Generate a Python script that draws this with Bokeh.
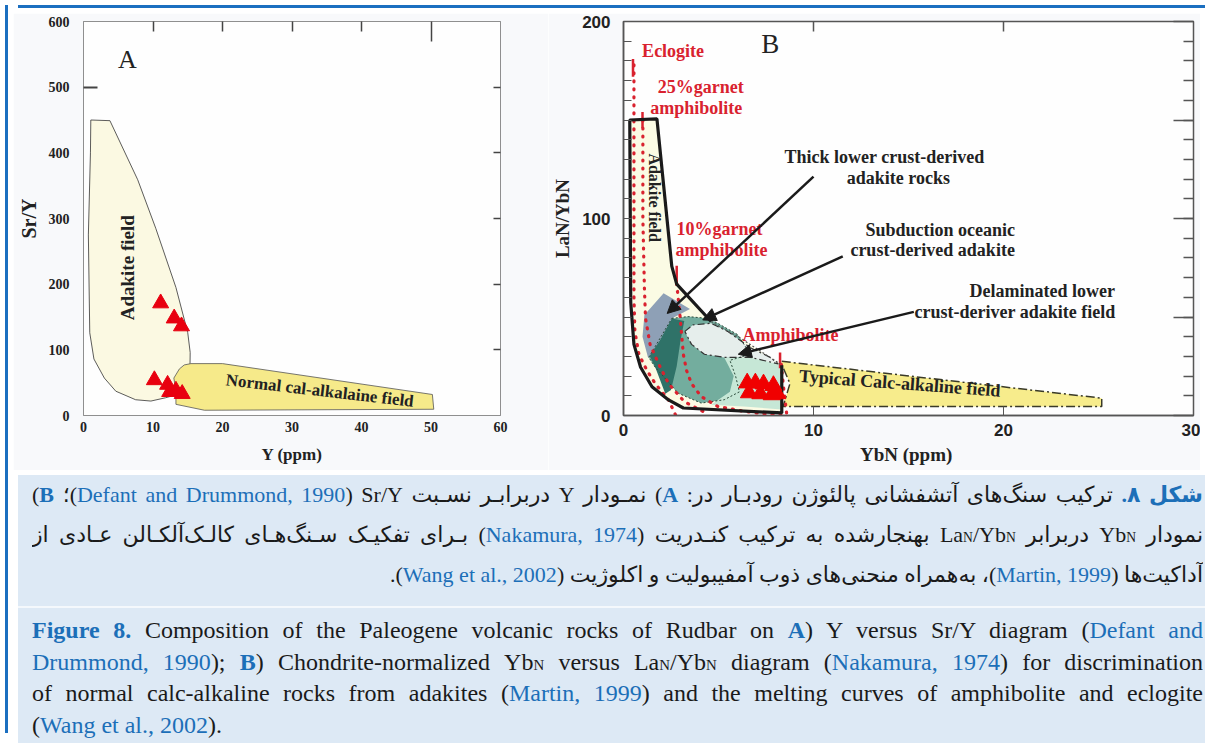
import math
from bokeh.plotting import figure
from bokeh.models import Range1d, LinearAxis, FixedTicker, ColumnDataSource, Arrow, NormalHead, Div
from bokeh.layouts import row, column
from bokeh.core.properties import value
from bokeh.embed import file_html
from bokeh.resources import INLINE

SERIF = "Liberation Serif"
SANS = "Liberation Sans"
RED = "#d9222f"
BLUE = "#1c6fb8"

# ---------------- Panel A : Y vs Sr/Y ----------------
A_xticks = [0, 10, 20, 30, 40, 50, 60]
A_yticks = [0, 100, 200, 300, 400, 500, 600]
A_adakite_x = [1.05, 3.8, 7.8, 10.4, 13.3, 15.0, 15.35, 15.3, 14.5, 13.5, 11.8, 9.7, 7.5, 4.65, 3.0, 1.5, 0.9, 0.7, 1.0]
A_adakite_y = [450, 449, 359, 285, 195, 126, 96, 57, 47, 32, 27, 22, 24, 37, 57, 86, 126, 275, 400]
A_calc_x = [15.45, 20.0, 50.2, 50.4, 17.4, 13.3, 13.3, 13.0, 13.8, 14.5]
A_calc_y = [79, 79, 32, 9.5, 8, 17, 37, 57, 71, 77]
A_tri_x = [11.1, 13.05, 14.1, 10.2, 12.1, 12.4, 13.3, 14.2]
A_tri_y = [171, 148, 136, 54, 47, 36, 38, 33]
A_labels = ["A", "Adakite field", "Normal cal-alkalaine field"]
A_label_x = [6.3, 6.3, 34.0]
A_label_y = [542, 225, 38]

# ---------------- Panel B : YbN vs LaN/YbN ----------------
B_xticks = [0, 10, 20, 30]
B_yticks = [0, 100, 200]
B_adakite_x = [0.33, 1.76, 2.54, 2.80, 4.61, 6.2, 8.24, 8.33, 8.33, 3.15, 2.37, 1.5, 0.9, 0.55, 0.38]
B_adakite_y = [150, 150.6, 75.8, 66.7, 47.7, 39, 26.2, 25.5, 1.3, 3.8, 7.9, 14.6, 24.5, 36.1, 57.6]
B_calc_x = [8.33, 25.17, 25.17, 8.4, 8.76, 8.33]
B_calc_y = [27.5, 8.8, 4.6, 4.6, 16.2, 26.0]
B_teal_x = [2.54, 3.4, 4.44, 4.96, 6.0, 6.68, 5.6, 5.9, 6.1, 5.3, 4.09, 2.88, 1.67, 1.33]
B_teal_y = [49.3, 50.2, 49.3, 46.8, 41.1, 31.1, 28.0, 20.0, 12.0, 8.0, 6.3, 11.3, 24.5, 29.5]
B_dark_x = [1.33, 1.9, 2.54, 3.2, 3.0, 2.8, 2.5, 2.2, 1.67]
B_dark_y = [31.1, 38.0, 49.3, 48.0, 38.0, 25.0, 13.0, 11.0, 24.5]
B_mint_x = [5.3, 6.68, 8.15, 8.33, 8.33, 6.34, 4.61, 5.6, 5.8]
B_mint_y = [29.5, 29.5, 26.2, 25.0, 3.0, 4.6, 5.5, 12.0, 20.0]
B_gray_x = [3.23, 3.66, 4.61, 5.48, 6.68, 7.72, 8.15, 6.68, 5.3, 4.26, 3.58]
B_gray_y = [42.7, 46.0, 46.8, 42.7, 34.4, 29.5, 26.2, 29.5, 29.5, 31.1, 36.1]
B_thick_x = [1.0, 1.1, 2.11, 3.5, 2.54, 1.9, 1.3]
B_thick_y = [40.0, 51.0, 62.0, 54.0, 49.3, 38.0, 29.0]
# melting curves (Wang et al., 2002)
B_ecl_x = [0.55, 0.55, 0.55, 0.6, 0.81, 1.24, 1.67, 2.37, 2.8]
B_ecl_y = [178, 120, 60, 42.7, 31, 22.8, 16.2, 7.9, -1]
B_g25_x = [1.02, 1.02, 1.1, 1.16, 1.4, 1.85, 2.37, 3.2, 4.2]
B_g25_y = [150, 100, 65, 49.3, 36, 26.2, 16.2, 7, 2]
B_g10_x = [2.8, 2.88, 2.97, 3.06, 3.15, 3.32, 3.58, 4.09, 4.96, 6.34, 7.72, 8.6]
B_g10_y = [67, 59.3, 51, 41, 31, 22.8, 16.2, 9.6, 4.6, 2.1, 0.5, 0]
B_amph_x = [8.3, 8.45, 8.6]
B_amph_y = [26, 12, 0]
B_mark_x = [0.5, 1.0, 2.8, 8.24]
B_mark_y0 = [181, 154, 76, 32]
B_mark_y1 = [172, 146, 66, 24]
B_tri_x = [6.51, 6.94, 7.37, 7.89, 6.6, 7.2, 7.8, 8.1]
B_tri_y = [16.5, 16.5, 16.0, 15.2, 11.5, 11.0, 10.5, 11.0]
B_arrow_x0 = [10.0, 11.54, 15.28]
B_arrow_y0 = [121.3, 80.8, 52.6]
B_arrow_x1 = [2.30, 4.17, 6.04]
B_arrow_y1 = [51.8, 48.5, 31.1]
B_black_text = ["Thick lower crust-derived", "adakite rocks", "Subduction oceanic", "crust-derived adakite",
                "Delaminated lower", "crust-deriver adakite field"]
B_black_x = [13.74, 14.47, 16.67, 16.27, 22.04, 20.61]
B_black_y = [131.3, 120.5, 94.4, 83.8, 63.1, 52.3]
B_red_text = ["25%garnet", "amphibolite", "10%garnet", "amphibolite", "Amphibolite"]
B_red_x = [4.06, 3.83, 5.05, 5.16, 8.79]
B_red_y = [166.9, 156.1, 94.9, 83.8, 41.1]


def base_axis(ax, color):
    ax.axis_line_color = color
    ax.major_tick_line_color = color
    ax.minor_tick_line_color = color
    ax.major_tick_out = 0
    ax.minor_tick_out = 0


def blank_axis(ax, ticks):
    ax.major_label_overrides = {t: "" for t in ticks}
    ax.major_label_text_font_size = "1px"
    ax.major_label_standoff = 0
    ax.axis_label = None


# ---- figure A
pA = figure(width=535, height=457, min_border_left=70, min_border_right=48, min_border_top=7,
            min_border_bottom=50, x_range=Range1d(0, 60), y_range=Range1d(0, 600),
            output_backend="svg", toolbar_location=None)
pA.grid.visible = False
pA.background_fill_color = "#fefefe"
pA.border_fill_color = "#f8f9fb"
pA.outline_line_color = "#9a9a9a"
gA = "#8f8f8f"
xa = pA.xaxis[0]
xa.ticker = FixedTicker(ticks=A_xticks)
base_axis(xa, gA)
xa.major_tick_in = 0
xa.major_label_standoff = 6
xa.axis_label = "Y (ppm)"
xa.axis_label_standoff = 10
ya = pA.yaxis[0]
ya.ticker = FixedTicker(ticks=A_yticks, minor_ticks=[500])
base_axis(ya, "#444")
ya.axis_line_color = gA
ya.major_tick_in = 0
ya.minor_tick_in = 14
ya.minor_tick_line_width = 2
ya.major_label_standoff = 14
ya.axis_label = "Sr/Y"
ya.axis_label_standoff = 6
for ax in (xa, ya):
    ax.major_label_text_font = SERIF
    ax.major_label_text_font_style = "bold"
    ax.major_label_text_font_size = "14px"
    ax.major_label_text_color = "#222"
    ax.axis_label_text_font = SERIF
    ax.axis_label_text_font_style = "bold"
    ax.axis_label_text_color = "#222"
xa.axis_label_text_font_size = "17px"
ya.axis_label_text_font_size = "20px"
topA = LinearAxis(ticker=FixedTicker(ticks=[10, 20, 30, 40], minor_ticks=[50]))
base_axis(topA, "#444")
topA.axis_line_color = gA
topA.major_tick_in = 10
topA.minor_tick_in = 20
topA.major_tick_line_width = 1.5
topA.minor_tick_line_width = 1.5
blank_axis(topA, [10, 20, 30, 40])
pA.add_layout(topA, "above")
rightA = LinearAxis(ticker=FixedTicker(ticks=[100, 200, 300, 400, 500], minor_ticks=[]))
base_axis(rightA, "#444")
rightA.axis_line_color = gA
rightA.major_tick_in = 7
rightA.major_tick_line_width = 1.5
blank_axis(rightA, [100, 200, 300, 400, 500])
pA.add_layout(rightA, "right")

pA.patch(A_adakite_x, A_adakite_y, fill_color="#fbf9e2", line_color="#333", line_width=0.8)
pA.patch(A_calc_x, A_calc_y, fill_color="#f6ea8a", line_color="#555", line_width=0.8)
pA.scatter(A_tri_x, A_tri_y, marker="triangle", size=16, fill_color="#e8000f", line_color="#e8000f")
pA.text(x=A_label_x[:1], y=A_label_y[:1], text=A_labels[:1], text_font=value(SERIF), text_font_size="26px",
        text_align="center", text_baseline="middle", text_color="#222")
pA.text(x=A_label_x[1:2], y=A_label_y[1:2], text=A_labels[1:2], text_font=value(SERIF), text_font_size="19px",
        text_font_style="bold", text_align="center", text_baseline="middle", angle=math.pi / 2, text_color="#222")
pA.text(x=A_label_x[2:], y=A_label_y[2:], text=A_labels[2:], text_font=value(SERIF), text_font_size="17px",
        text_font_style="bold", text_align="center", text_baseline="middle", angle=-0.115, text_color="#222")

# ---- figure B
pB = figure(width=652, height=457, min_border_left=75, min_border_right=7, min_border_top=8,
            min_border_bottom=55, x_range=Range1d(0, 30), y_range=Range1d(0, 200),
            output_backend="svg", toolbar_location=None)
pB.grid.visible = False
pB.background_fill_color = "#fefefe"
pB.border_fill_color = "#f8f9fb"
pB.outline_line_color = "#555"
pB.outline_line_width = 1.5
gB = "#555"
xb = pB.xaxis[0]
xb.ticker = FixedTicker(ticks=B_xticks)
base_axis(xb, gB)
xb.major_tick_in = 9
xb.major_label_standoff = 8
xb.axis_label = "YbN  (ppm)"
xb.axis_label_standoff = 5
yb = pB.yaxis[0]
yb.ticker = FixedTicker(ticks=B_yticks, minor_ticks=list(range(10, 200, 10)))
base_axis(yb, gB)
yb.major_tick_in = 8
yb.minor_tick_in = 8
yb.major_label_standoff = 13
yb.axis_label = "LaN/YbN"
yb.axis_label_standoff = 6
for ax in (xb, yb):
    ax.axis_line_width = 1.5
    ax.major_label_text_font = SANS
    ax.major_label_text_font_style = "bold"
    ax.major_label_text_font_size = "17px"
    ax.major_label_text_color = "#222"
    ax.axis_label_text_font = SERIF
    ax.axis_label_text_font_style = "bold"
    ax.axis_label_text_font_size = "19px"
    ax.axis_label_text_color = "#222"
topB = LinearAxis(ticker=FixedTicker(ticks=[10, 20]))
base_axis(topB, gB)
topB.major_tick_in = 10
topB.major_tick_line_width = 1.5
blank_axis(topB, [10, 20])
pB.add_layout(topB, "above")
rightB = LinearAxis(ticker=FixedTicker(ticks=[0, 50, 100, 150, 200], minor_ticks=list(range(10, 200, 10))))
base_axis(rightB, gB)
rightB.major_tick_in = 20
rightB.minor_tick_in = 10
rightB.major_tick_line_width = 1.5
rightB.minor_tick_line_width = 1.5
blank_axis(rightB, [0, 50, 100, 150, 200])
pB.add_layout(rightB, "right")

pB.patch(B_adakite_x, B_adakite_y, fill_color="#fbfbe4", line_color=None)
pB.patch(B_calc_x, B_calc_y, fill_color="#f7ec8c", line_color="#3a3a28", line_width=1.5, line_dash="9 3 2 3")
pB.patches(xs=[B_teal_x, B_dark_x, B_mint_x, B_gray_x, B_thick_x],
           ys=[B_teal_y, B_dark_y, B_mint_y, B_gray_y, B_thick_y],
           fill_color=["#73ad9e", "#2f7268", "#c6e7d6", "#e6eeec", "#8ea0b6"], line_color=None)
pB.line(B_gray_x + B_gray_x[:1], B_gray_y + B_gray_y[:1], line_color="#333", line_width=1.2, line_dash="7 3 2 3")
pB.line(B_teal_x + B_teal_x[:1], B_teal_y + B_teal_y[:1], line_color="#2a4a3a", line_width=1, line_dash="2 2")
# melting curves
pB.multi_line(xs=[B_ecl_x, B_g25_x, B_g10_x, B_amph_x], ys=[B_ecl_y, B_g25_y, B_g10_y, B_amph_y],
              line_color=RED, line_width=3.2, line_dash="1 7", line_cap="round")
pB.segment(x0=B_mark_x, y0=B_mark_y0, x1=B_mark_x, y1=B_mark_y1, line_color=RED, line_width=2.5)
# adakite field thick outline
idx = [4, 3, 2, 1, 0, 14, 13, 12, 11, 10, 9, 8, 7]
pB.line([B_adakite_x[i] for i in idx], [B_adakite_y[i] for i in idx], line_color="#1a1a1a", line_width=3.2)
pB.line([B_adakite_x[i] for i in (4, 5, 6)], [B_adakite_y[i] for i in (4, 5, 6)], line_color="#555",
        line_width=1.2, line_dash="2 2")
pB.scatter(B_tri_x, B_tri_y, marker="triangle", size=17, fill_color="#f00000", line_color="#f00000")
arr_src = ColumnDataSource(dict(x0=B_arrow_x0, y0=B_arrow_y0, x1=B_arrow_x1, y1=B_arrow_y1))
pB.add_layout(Arrow(end=NormalHead(size=13, fill_color="#1a1a1a", line_color="#1a1a1a"),
                    x_start="x0", y_start="y0", x_end="x1", y_end="y1", source=arr_src,
                    line_width=2.5, line_color="#1a1a1a"))
pB.text(x=B_black_x, y=B_black_y, text=B_black_text, text_font=value(SERIF), text_font_size="18px",
        text_font_style="bold", text_align="center", text_baseline="middle", text_color="#222")
pB.text(x=B_red_x, y=B_red_y, text=B_red_text, text_font=value(SERIF), text_font_size="18px",
        text_font_style="bold", text_align="center", text_baseline="middle", text_color=RED)
pB.text(x=[0.98], y=[185], text=["Eclogite"], text_font=value(SERIF), text_font_size="18px",
        text_font_style="bold", text_align="left", text_baseline="middle", text_color=RED)
pB.text(x=[7.72], y=[188.7], text=["B"], text_font=value(SERIF), text_font_size="27px",
        text_align="center", text_baseline="middle", text_color="#222")
pB.text(x=[1.64], y=[110.6], text=["Adakite field"], text_font=value(SERIF), text_font_size="16px",
        text_font_style="bold", text_align="center", text_baseline="middle", angle=-math.pi / 2, text_color="#222")
pB.text(x=[14.54], y=[16.4], text=["Typical Calc-alkaline field"], text_font=value(SERIF), text_font_size="18px",
        text_font_style="bold", text_align="center", text_baseline="middle", angle=-0.074, text_color="#222")

# ---------------- caption ----------------
def r(t):
    return f'<span style="color:{BLUE}">{t}</span>'


def b(t):
    return f'<b style="color:{BLUE}">{t}</b>'


N = '<span style="font-size:62%">N</span>'
RLM = "&rlm;"


def ltr(t):
    return f'<span dir="ltr" style="display:inline-block">{t}</span>'


fa_lines = [
    f'{b("شکل ۸.")} ترکیب سنگ‌های آتشفشانی پالئوژن رودبـار در: {b("A")}) نمـودار Y دربرابـر نسـبت Sr/Y{RLM} ({r("Defant and Drummond, 1990")}){RLM}؛ {b("B")})',
    f'نمودار {ltr("Yb" + N)} دربرابر {ltr("La" + N + "/Yb" + N)} بهنجارشده به ترکیب کنـدریت ({r("Nakamura, 1974")}) بـرای تفکیـک سـنگ‌هـای کالـک‌آلکـالن عـادی از',
    f'آداکیت‌ها ({r("Martin, 1999")})، به‌همراه منحنی‌های ذوب آمفیبولیت و اکلوژیت ({r("Wang et al., 2002")}).',
]
en_lines = [
    f'{b("Figure 8.")} Composition of the Paleogene volcanic rocks of Rudbar on {b("A")}) Y versus Sr/Y diagram ({r("Defant and")}',
    f'{r("Drummond, 1990")}); {b("B")}) Chondrite-normalized {ltr("Yb" + N)} versus {ltr("La" + N + "/Yb" + N)} diagram ({r("Nakamura, 1974")}) for discrimination',
    f'of normal calc-alkaline rocks from adakites ({r("Martin, 1999")}) and the melting curves of amphibolite and eclogite',
    f'({r("Wang et al., 2002")}).',
]


def lines_html(lines, h):
    out = []
    for i, t in enumerate(lines):
        last = "start" if i == len(lines) - 1 else "justify"
        out.append(f'<div style="height:{h}px;line-height:{h}px;text-align:justify;text-align-last:{last};'
                   f'overflow:hidden;white-space:normal;">{t}</div>')
    return "".join(out)


cap_html = (
    '<div style="width:1187px;height:268px;background:#dde9f5;box-sizing:border-box;'
    'padding:0px 2px 0 14px;color:#1a1a1a;overflow:hidden;">'
    f'<div dir="rtl" style="font-family:\'Liberation Serif\',\'DejaVu Sans\',serif;font-size:22px;">'
    f'{lines_html(fa_lines, 40)}</div>'
    '<div style="height:11px"></div><div style="height:2px;background:#f4f8fc;margin-left:-14px;margin-right:-2px"></div>'
    '<div style="height:7px"></div>'
    f'<div style="font-family:\'Liberation Serif\',serif;font-size:24px;">{lines_html(en_lines, 31.5)}</div>'
    '</div>'
)
caption = Div(text=cap_html, width=1187, height=268)
left_bar = Div(text="", width=3, height=728, styles={"background-color": "#1b6fc0"})
top_bar = Div(text="", width=1187, height=3, styles={"background-color": "#1b6fc0"})

layout = row(left_bar, column(top_bar, row(pA, pB), caption))
open("out.html", "w").write(file_html(layout, INLINE))
